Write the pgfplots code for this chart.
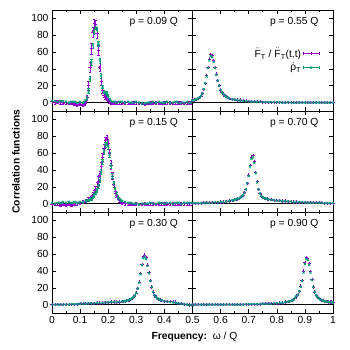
\documentclass[border=0pt]{standalone}
\usepackage{amsmath}
\usepackage{fontspec}
\setmainfont{Liberation Sans}
\setsansfont{Liberation Sans}
\usepackage{pgfplots}
\usepackage{pgfplotstable}
\pgfplotsset{compat=1.18}
\usepgfplotslibrary{groupplots}
\usetikzlibrary{calc}

\definecolor{gpurple}{HTML}{9400D3}
\definecolor{ggreen}{HTML}{009E73}

% p = 0.09 Q
\pgfplotstableread{
x y e
0 1 1.5
0.01 0 1.5
0.02 1 1.5
0.03 0 1.5
0.04 -1 1.5
0.05 0 1.5
0.06 -1 1.5
0.07 -1 1.5
0.08 -2 1.5
0.09 -3 1.5
0.10 -2 1.5
0.11 -3 1.5
0.115 -2 1.5
0.12 1 2
0.125 6 3
0.13 20 5
0.135 42 6
0.14 64 7
0.145 84 6
0.15 94 5
0.155 93 5
0.16 82 5
0.165 62 6
0.17 42 5
0.175 25 4
0.18 14 3
0.185 9 2.5
0.19 6 2
0.195 5 2
0.20 3 1.5
0.205 1 1.5
0.21 0 1.5
0.215 0 1.5
0.22 -1 1.5
0.23 0 1.5
0.24 0 1.5
0.25 -1 1.5
0.26 0 1.5
0.27 0 1.5
0.28 -1 1.5
0.29 0 1.5
0.30 0 1.5
0.31 -1 1.5
0.32 -1 1.5
0.33 -2 1.5
0.34 -1 1.5
0.35 0 1.5
0.36 -1 1.5
0.37 0 1.5
0.38 0 1.5
0.39 -1 1.5
0.40 0 1.5
0.41 0 1.5
0.42 0 1.5
0.43 -1 1.5
0.44 0 1.5
0.45 0 1.5
0.46 0 1.5
0.47 -1 1.5
0.48 0 1.5
0.49 0 1.5
0.50 0 1.5
}\pA
\pgfplotstableread{
x y e
0 2 1
0.01 2 1
0.02 1 1
0.03 2 1
0.04 2 1
0.05 1 1
0.06 0 1
0.07 1 1
0.08 1 1
0.09 0 1
0.10 1 1
0.11 0 1
0.115 1 1
0.12 3 1.5
0.125 6 2
0.13 14 3
0.135 28 3
0.14 48 3
0.145 68 3
0.15 84 3
0.155 90 3
0.16 86 3
0.165 70 3
0.17 50 3
0.175 32 3
0.18 19 2
0.185 13 2
0.19 12 2
0.195 11 2
0.20 8 1.5
0.205 4 1
0.21 2 1
0.215 1 1
0.22 1 1
0.23 0 1
0.24 1 1
0.25 1 1
0.26 0 1
0.27 1 1
0.28 0 1
0.29 0 1
0.30 1 1
0.31 0 1
0.32 -1 1
0.33 -1 1
0.34 0 1
0.35 0 1
0.36 1 1
0.37 0 1
0.38 1 1
0.39 0 1
0.40 0 1
0.41 1 1
0.42 0 1
0.43 0 1
0.44 1 1
0.45 0 1
0.46 0 1
0.47 0 1
0.48 1 1
0.49 0 1
0.50 0 1
}\gA

% p = 0.55 Q
\pgfplotstableread{
x y
0.50 3
0.505 3
0.51 3.5
0.515 4
0.52 5
0.525 6
0.53 8
0.535 11
0.54 16
0.545 23
0.55 32
0.555 42
0.56 52
0.565 57
0.57 56
0.575 50
0.58 42
0.585 34
0.59 26
0.595 20
0.60 15
0.605 12
0.61 10
0.615 8
0.62 7
0.625 6
0.63 5
0.64 4
0.65 3.5
0.66 3
0.67 3
0.68 2.5
0.69 2
0.70 1.5
0.71 1
0.72 1
0.73 1
0.74 1
0.75 0.5
0.76 0.5
0.77 0.5
0.78 0.5
0.79 0.5
0.80 0.5
0.81 0
0.82 0.5
0.83 0
0.84 0
0.85 0.5
0.86 0
0.87 0
0.88 0
0.89 0.5
0.90 0
0.91 0
0.92 0
0.93 0
0.94 0
0.95 0
0.96 0
0.97 0
0.98 0
0.99 0
1.00 0
}\pB
\pgfplotstableread{
x y
0.50 3
0.505 3
0.51 3.5
0.515 4
0.52 5
0.525 6
0.53 8
0.535 11
0.54 16
0.545 23
0.55 31
0.555 41
0.56 50
0.565 55
0.57 54
0.575 48
0.58 41
0.585 33
0.59 26
0.595 20
0.60 15
0.605 12
0.61 10
0.615 8
0.62 7
0.625 6
0.63 5
0.64 4
0.65 3.5
0.66 3
0.67 2.5
0.68 2
0.69 1.5
0.70 1.5
0.71 1
0.72 1
0.73 1
0.74 1
0.75 0.5
0.76 0.5
0.77 0.5
0.78 0.5
0.79 0.5
0.80 0.5
0.81 0.5
0.82 0
0.83 0
0.84 0.5
0.85 0
0.86 0
0.87 0
0.88 0
0.89 0
0.90 0
0.91 0
0.92 0
0.93 0
0.94 0
0.95 0
0.96 0
0.97 0
0.98 0
0.99 0
1.00 0
}\gB

% p = 0.15 Q
\pgfplotstableread{
x y e
0 -1 1.5
0.01 -1 1.5
0.02 0 1.5
0.03 -2 1.5
0.04 -1 1.5
0.05 -2 1.5
0.06 -1 1.5
0.07 -2 1.5
0.08 -1 1.5
0.09 0 1.5
0.10 1 1.5
0.11 2 1.5
0.12 3 1.5
0.125 4 1.5
0.13 5 2
0.135 6 2
0.14 7 2
0.145 10 3
0.15 13 3
0.155 17 4
0.16 21 4
0.165 27 5
0.17 34 5
0.175 44 5
0.18 55 5
0.185 66 5
0.19 75 4
0.195 77 4
0.20 72 4
0.205 60 5
0.21 46 5
0.215 33 4
0.22 23 4
0.225 15 3
0.23 10 3
0.235 7 2
0.24 4 2
0.245 2 1.5
0.25 1 1.5
0.26 0 1.5
0.27 0 1.5
0.28 -1 1.5
0.29 -1 1.5
0.30 0 1.5
0.31 -1 1.5
0.32 -1 1.5
0.33 0 1.5
0.34 -1 1.5
0.35 0 1.5
0.36 0 1.5
0.37 -1 1.5
0.38 0 1.5
0.39 0 1.5
0.40 0 1.5
0.41 -1 1.5
0.42 0 1.5
0.43 0 1.5
0.44 0 1.5
0.45 -1 1.5
0.46 0 1.5
0.47 0 1.5
0.48 0 1.5
0.49 0 1.5
0.50 0 1.5
}\pC
\pgfplotstableread{
x y e
0 1 1
0.01 0 1
0.02 1 1
0.03 1 1
0.04 2 1
0.05 1 1
0.06 2 1
0.07 1 1
0.08 2 1
0.09 1 1
0.10 2 1
0.11 2 1
0.12 3 1
0.125 4 1.5
0.13 4 1.5
0.135 5 1.5
0.14 6 2
0.145 8 2
0.15 10 2
0.155 13 2
0.16 16 2.5
0.165 21 2.5
0.17 28 3
0.175 38 3
0.18 50 3
0.185 62 3
0.19 70 3
0.195 72 3
0.20 68 3
0.205 58 3
0.21 45 3
0.215 33 3
0.22 24 2.5
0.225 17 2.5
0.23 12 2
0.235 8 2
0.24 5 1.5
0.245 4 1.5
0.25 3 1
0.26 2 1
0.27 1 1
0.28 1 1
0.29 0 1
0.30 0 1
0.31 -1 1
0.32 0 1
0.33 0 1
0.34 0 1
0.35 1 1
0.36 0 1
0.37 0 1
0.38 1 1
0.39 1 1
0.40 0 1
0.41 1 1
0.42 1 1
0.43 0 1
0.44 1 1
0.45 1 1
0.46 0 1
0.47 1 1
0.48 1 1
0.49 1 1
0.50 1 1
}\gC

% p = 0.70 Q
\pgfplotstableread{
x y
0.50 0.5
0.51 0.5
0.52 0.5
0.53 0.5
0.54 1
0.55 1
0.56 1
0.57 1
0.58 1.5
0.59 1.5
0.60 2
0.61 2
0.62 2.5
0.63 3
0.64 4
0.645 4
0.65 4.5
0.655 5
0.66 5.5
0.665 6
0.67 7
0.675 8.5
0.68 10
0.685 13
0.69 17
0.695 24
0.70 34
0.705 45
0.71 55
0.715 57
0.72 50
0.725 37
0.73 26
0.735 17
0.74 12
0.745 9
0.75 7.5
0.755 6.5
0.76 6
0.765 5.5
0.77 5
0.78 4.5
0.79 4
0.80 3.5
0.81 3.5
0.82 3
0.83 3
0.84 2.5
0.85 2.5
0.86 2
0.87 2
0.88 1.5
0.89 1.5
0.90 1.5
0.91 1
0.92 1
0.93 1
0.94 1
0.95 1
0.96 1
0.97 0.5
0.98 0.5
0.99 0.5
1.00 0.5
}\pD
\pgfplotstableread{
x y
0.50 0.5
0.51 0.5
0.52 0.5
0.53 0.5
0.54 1
0.55 1
0.56 1
0.57 1
0.58 1.5
0.59 1.5
0.60 2
0.61 2
0.62 2.5
0.63 3
0.64 4
0.645 4
0.65 4.5
0.655 5
0.66 5.5
0.665 6
0.67 7
0.675 8.5
0.68 10
0.685 13
0.69 17
0.695 24
0.70 33
0.705 44
0.71 53
0.715 55
0.72 48
0.725 36
0.73 25
0.735 17
0.74 12
0.745 9
0.75 7.5
0.755 6.5
0.76 6
0.765 5.5
0.77 5
0.78 4.5
0.79 4
0.80 3.5
0.81 3.5
0.82 3
0.83 3
0.84 2.5
0.85 2.5
0.86 2
0.87 2
0.88 1.5
0.89 1.5
0.90 1.5
0.91 1
0.92 1
0.93 1
0.94 1
0.95 1
0.96 1
0.97 0.5
0.98 0.5
0.99 0.5
1.00 0.5
}\gD

% p = 0.30 Q
\pgfplotstableread{
x y
0 0
0.01 0
0.02 0
0.03 0
0.04 0
0.05 0
0.06 0
0.07 0.5
0.08 0.5
0.09 0.5
0.10 1
0.11 1
0.12 1
0.13 1.5
0.14 1.5
0.15 1.5
0.16 2
0.17 2
0.18 2
0.19 2.5
0.20 2.5
0.21 3
0.22 3
0.23 3
0.24 3
0.25 3.5
0.255 4
0.26 4
0.265 4.5
0.27 5
0.275 5.5
0.28 6.5
0.285 7.5
0.29 9
0.295 11
0.30 14
0.305 19
0.31 27
0.315 37
0.32 48
0.325 57
0.33 59
0.335 56
0.34 47
0.345 38
0.35 29
0.355 21
0.36 15
0.365 11
0.37 9
0.375 7.5
0.38 6.5
0.385 5.5
0.39 5
0.40 4
0.41 3.5
0.42 3.5
0.43 3.5
0.44 3
0.45 1.5
0.46 1
0.47 0.5
0.48 0
0.49 -0.5
0.50 -1
}\pE
\pgfplotstableread{
x y
0 0
0.01 0
0.02 0
0.03 0
0.04 0
0.05 0
0.06 0
0.07 0.5
0.08 0.5
0.09 0.5
0.10 1
0.11 1
0.12 1
0.13 1.5
0.14 1.5
0.15 1.5
0.16 2
0.17 2
0.18 2
0.19 2.5
0.20 2.5
0.21 3
0.22 3
0.23 3
0.24 3
0.25 3.5
0.255 4
0.26 4
0.265 4.5
0.27 5
0.275 5.5
0.28 6.5
0.285 7.5
0.29 9
0.295 11
0.30 14
0.305 19
0.31 26
0.315 36
0.32 47
0.325 55
0.33 57
0.335 54
0.34 46
0.345 37
0.35 28
0.355 21
0.36 15
0.365 11
0.37 9
0.375 7.5
0.38 6.5
0.385 5.5
0.39 5
0.40 4
0.41 3.5
0.42 3
0.43 2.5
0.44 2
0.45 1.5
0.46 1
0.47 0.5
0.48 0
0.49 -0.5
0.50 -1
}\gE

% p = 0.90 Q
\pgfplotstableread{
x y
0.50 0
0.51 0
0.52 0
0.53 0
0.54 0
0.55 0
0.56 0
0.57 0
0.58 0
0.59 0
0.60 0
0.61 0
0.62 0
0.63 0
0.64 0
0.65 0
0.66 0
0.67 0
0.68 0
0.69 0.5
0.70 0.5
0.71 0.5
0.72 0.5
0.73 0.5
0.74 0.5
0.75 1
0.76 1
0.77 1
0.78 1
0.79 1.5
0.80 1.5
0.81 2
0.82 2
0.83 3
0.84 3.5
0.845 4
0.85 4.5
0.855 5
0.86 6
0.865 8
0.87 10
0.875 12
0.88 16
0.885 22
0.89 29
0.895 40
0.90 50
0.905 56
0.91 55
0.915 49
0.92 39
0.925 30
0.93 21
0.935 15
0.94 11
0.945 9
0.95 7
0.955 6
0.96 5
0.965 4.5
0.97 4
0.975 3.5
0.98 3.5
0.985 3
0.99 3
0.995 3
1.00 2.5
}\pF
\pgfplotstableread{
x y
0.50 0
0.51 0
0.52 0
0.53 0
0.54 0
0.55 0
0.56 0
0.57 0
0.58 0
0.59 0
0.60 0
0.61 0
0.62 0
0.63 0
0.64 0
0.65 0
0.66 0
0.67 0
0.68 0
0.69 0.5
0.70 0.5
0.71 0.5
0.72 0.5
0.73 0.5
0.74 0.5
0.75 1
0.76 1
0.77 1
0.78 1
0.79 1.5
0.80 1.5
0.81 2
0.82 2
0.83 3
0.84 3.5
0.845 4
0.85 4.5
0.855 5
0.86 6
0.865 8
0.87 10
0.875 12
0.88 16
0.885 21
0.89 28
0.895 38
0.90 48
0.905 54
0.91 53
0.915 47
0.92 38
0.925 29
0.93 21
0.935 15
0.94 11
0.945 9
0.95 7
0.955 6
0.96 5
0.965 4.5
0.97 4
0.975 3.5
0.98 3.5
0.985 3
0.99 3
0.995 3
1.00 2.5
}\gF

\pgfplotsset{
  zl/.style={black, line width=0.5pt, forget plot},
  pbase/.style={gpurple, only marks, mark=+, mark size=1.6pt, mark options={line width=0.6pt}},
  gbase/.style={ggreen, only marks, mark=x, mark size=1.4pt, mark options={line width=0.8pt}},
  perr/.style={pbase, error bars/.cd, y dir=both, y explicit,
    error bar style={line width=0.4pt},
    error mark options={rotate=90, mark size=1.2pt, line width=0.4pt}},
  gerr/.style={gbase, error bars/.cd, y dir=both, y explicit,
    error bar style={line width=0.4pt},
    error mark options={rotate=90, mark size=1.2pt, line width=0.4pt}},
}
\tikzset{plab/.style={anchor=east, xshift=-11pt, font=\fontsize{10.3}{12}\selectfont}}
\newcommand{\Fdd}{\ensuremath{\ddot{\text{F}}}}
\newcommand{\rhod}{\ensuremath{\dot{\text{ρ}}}}

\begin{document}
\begin{tikzpicture}
\begin{groupplot}[
  group style={group name=G, group size=2 by 3,
    horizontal sep=0pt, vertical sep=0pt,
    xticklabels at=edge bottom, yticklabels at=edge left},
  scale only axis, width=140.5pt, height=101pt,
  ymin=-10, ymax=110, ytick={0,20,40,60,80,100},
  minor x tick num=1,
  major tick length=4pt, minor tick length=2pt,
  tick style={black, line width=0.5pt},
  axis line style={line width=0.7pt},
  tick label style={font=\fontsize{10.3}{12}\selectfont},
  /pgf/number format/assume math mode=true,
  clip=true,
]
% row 1
\nextgroupplot[xmin=0, xmax=0.5, xtick={0,0.1,0.2,0.3,0.4,0.5}]
\addplot[zl] coordinates {(0,0) (0.5,0)};
\addplot[perr] table[x=x, y=y, y error=e] {\pA};
\addplot[gerr] table[x=x, y=y, y error=e] {\gA};
\node[plab] at (rel axis cs:1,0.88) {p = 0.09 Q};

\nextgroupplot[xmin=0.5, xmax=1, xtick={0.6,0.7,0.8,0.9,1}, extra x ticks={0.5}, extra x tick labels={},
  legend style={draw=none, fill=none, at={(0.925,0.665)}, anchor=north east,
    font=\fontsize{10.3}{12}\selectfont, row sep=0pt},
  legend cell align=right, legend plot pos=right]
\addplot[zl] coordinates {(0.5,0) (1,0)};
\addplot[pbase, legend image code/.code={
    \draw[gpurple, line width=0.5pt] (0cm,0cm) -- (0.55cm,0cm)
      (0cm,-1.5pt) -- (0cm,1.5pt) (0.55cm,-1.5pt) -- (0.55cm,1.5pt)
      (0.275cm,-1.5pt) -- (0.275cm,1.5pt);}]
  table[x=x, y=y] {\pB};
\addlegendentry{\Fdd\textsubscript{T} / \Fdd\textsubscript{T}(t,t)}
\addplot[gbase, legend image code/.code={
    \draw[ggreen, line width=0.5pt] (0cm,0cm) -- (0.55cm,0cm)
      (0cm,-1.5pt) -- (0cm,1.5pt) (0.55cm,-1.5pt) -- (0.55cm,1.5pt);
    \draw[ggreen, line width=0.6pt] (0.245cm,-1.2pt) -- (0.305cm,1.2pt) (0.245cm,1.2pt) -- (0.305cm,-1.2pt);}]
  table[x=x, y=y] {\gB};
\addlegendentry{\rhod\textsubscript{T}}
\node[plab] at (rel axis cs:1,0.88) {p = 0.55 Q};

% row 2
\nextgroupplot[xmin=0, xmax=0.5, xtick={0,0.1,0.2,0.3,0.4,0.5}]
\addplot[zl] coordinates {(0,0) (0.5,0)};
\addplot[perr] table[x=x, y=y, y error=e] {\pC};
\addplot[gerr] table[x=x, y=y, y error=e] {\gC};
\node[plab] at (rel axis cs:1,0.88) {p = 0.15 Q};

\nextgroupplot[xmin=0.5, xmax=1, xtick={0.6,0.7,0.8,0.9,1}, extra x ticks={0.5}, extra x tick labels={}]
\addplot[zl] coordinates {(0.5,0) (1,0)};
\addplot[pbase] table[x=x, y=y] {\pD};
\addplot[gbase] table[x=x, y=y] {\gD};
\node[plab] at (rel axis cs:1,0.88) {p = 0.70 Q};

% row 3
\nextgroupplot[xmin=0, xmax=0.5, xtick={0,0.1,0.2,0.3,0.4,0.5}]
\addplot[zl] coordinates {(0,0) (0.5,0)};
\addplot[pbase] table[x=x, y=y] {\pE};
\addplot[gbase] table[x=x, y=y] {\gE};
\node[plab] at (rel axis cs:1,0.88) {p = 0.30 Q};

\nextgroupplot[xmin=0.5, xmax=1, xtick={0.6,0.7,0.8,0.9,1}, extra x ticks={0.5}, extra x tick labels={}]
\addplot[zl] coordinates {(0.5,0) (1,0)};
\addplot[pbase] table[x=x, y=y] {\pF};
\addplot[gbase] table[x=x, y=y] {\gF};
\node[plab] at (rel axis cs:1,0.88) {p = 0.90 Q};
\end{groupplot}

\node[rotate=90, font=\bfseries\fontsize{10.3}{12}\selectfont]
  at ($(G c1r2.west)+(-36pt,0)$) {Correlation functions};
\node[font=\fontsize{10.3}{12}\selectfont]
  at ($(G c1r3.south east)+(2pt,-24pt)$) {\textbf{Frequency:}\ \ ω / Q};

\pgfresetboundingbox
\path[use as bounding box] ($(G c1r1.north west)+(-52pt,10pt)$) rectangle ($(G c2r3.south east)+(17pt,-37pt)$);
\end{tikzpicture}
\end{document}
